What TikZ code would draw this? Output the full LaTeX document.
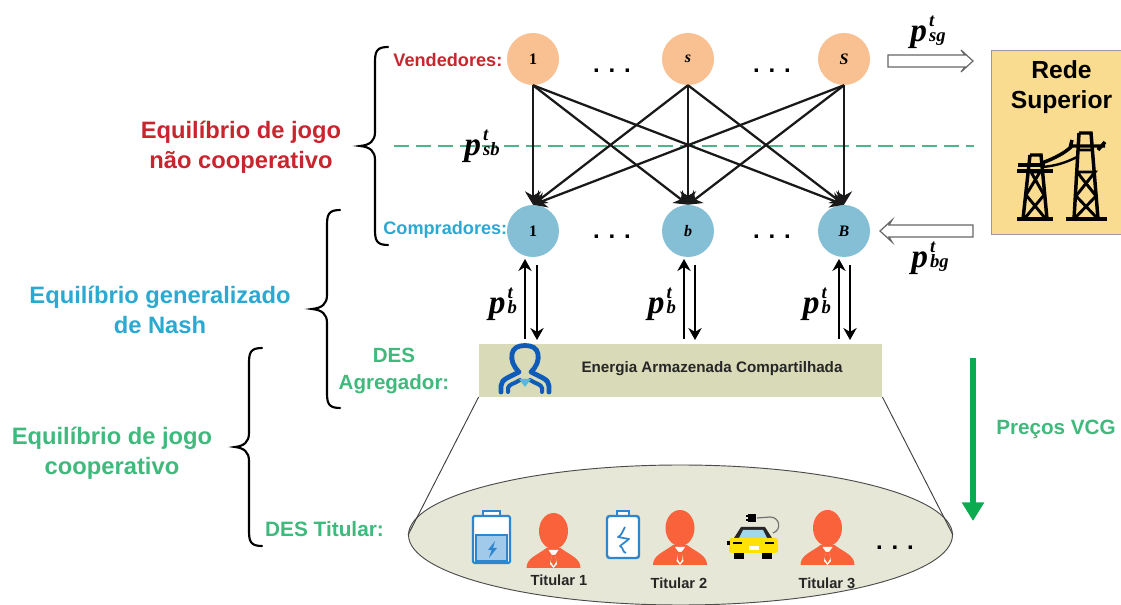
\documentclass[tikz,border=0pt]{standalone}
\usepackage{fontspec}
\setmainfont{Liberation Sans}
\newfontfamily\serifb{Liberation Serif}
\usetikzlibrary{arrows.meta,shapes.geometric}
\definecolor{cred}{HTML}{C9252F}
\definecolor{cblue}{HTML}{2BA9D2}
\definecolor{cgreen}{HTML}{3FB97C}
\definecolor{sellerc}{HTML}{F9C192}
\definecolor{buyerc}{HTML}{84BFD6}
\definecolor{gridc}{HTML}{FADC90}
\definecolor{barc}{HTML}{D8DAB8}
\definecolor{ellc}{HTML}{E6E7D6}
\definecolor{personc}{HTML}{F9623B}
\definecolor{batc}{HTML}{2E86CF}
\definecolor{dashc}{HTML}{4DB58A}
\definecolor{arrowg}{HTML}{0CAB50}
\definecolor{aggc}{HTML}{0F5CB8}
\newcommand{\pl}[1]{{\serifb\bfseries\itshape\fontsize{25}{25}\selectfont p\hspace{1.6pt}\rlap{\fontsize{14}{14}\selectfont\raisebox{.8em}{t}}\fontsize{14}{14}\selectfont\raisebox{-.02em}{#1}}}
\newcommand{\dotsrow}{{\fontsize{18}{18}\selectfont\bfseries .\hspace{6.6pt}.\hspace{6.6pt}.}}
\newcommand{\personicon}[2]{%
  \begin{scope}[shift={(#1,#2)}]
    \fill[personc] (0,0) ellipse [x radius=14.5,y radius=18];
    \fill[personc] (-27,37) .. controls (-27,27) and (-16,24) .. (-7,17) -- (7,17) .. controls (16,24) and (27,27) .. (27,37) -- cycle;
    \fill[white] (-5,19) -- (5,19) -- (1.5,24) -- (3.5,33) -- (0,37) -- (-3.5,33) -- (-1.5,24) -- cycle;
    \fill[personc] (-2,24) -- (2,24) -- (2.5,31) -- (0,35) -- (-2.5,31) -- cycle;
  \end{scope}}
\newcommand{\brc}[4]{% x-tip, x-end, y-top, y-bottom
  \pgfmathsetmacro{\ymid}{(#3+#4)/2}
  \draw[line width=1.6pt,line cap=round,black]
    (#2,#3) .. controls (#2-12,#3) and (#2-13,#3+5) .. (#2-13,#3+16)
    -- (#2-13,\ymid-14) .. controls (#2-13,\ymid-5) and (#2-18,\ymid-1) .. (#1,\ymid)
    .. controls (#2-18,\ymid+1) and (#2-13,\ymid+5) .. (#2-13,\ymid+14)
    -- (#2-13,#4-16) .. controls (#2-13,#4-5) and (#2-12,#4) .. (#2,#4);}
\tikzset{
  seller/.style={circle,fill=sellerc,minimum size=39pt,inner sep=0pt,font=\serifb\bfseries\itshape\fontsize{12}{12}\selectfont},
  buyer/.style={circle,fill=buyerc,minimum size=39pt,inner sep=0pt,font=\serifb\bfseries\itshape\fontsize{12}{12}\selectfont},
  flow/.style={line width=1.7pt,black!90,-{Stealth[length=10pt,width=12pt]}},
  dbl/.style={line width=1.3pt,black,-{Stealth[length=9pt,width=10pt]}},
  big/.style={font=\bfseries\fontsize{17.8}{22.5}\selectfont,align=center},
  small/.style={font=\bfseries\fontsize{13.6}{15}\selectfont},
  tit/.style={font=\bfseries\fontsize{11}{13}\selectfont,black!85},
  hollow/.style={draw=black!60,fill=white,line width=.9pt,line join=miter},
  thin/.style={line width=.7pt,black!75},
  tower/.style={line width=2.6pt,black,line join=miter},
}
\begin{document}
\begin{tikzpicture}[x=.75pt,y=-.75pt]
\useasboundingbox (0,0) rectangle (1121,605);
\fill[white] (0,0) rectangle (1121,605);

% ellipse of owners and the cone
\node[ellipse,draw=black!70,fill=ellc,line width=.7pt,minimum width=408pt,minimum height=105pt,inner sep=0pt] (own) at (680.5,535) {};
\node[draw=none,fill=barc,minimum width=302.5pt,minimum height=39.5pt,inner sep=0pt] (bar) at (680.5,370.5) {};
\draw[thin] (bar.south west) -- (own.west);
\draw[thin] (bar.south east) -- (own.east);

% dashed line
\coordinate (dl) at (394,146);
\coordinate (dr) at (974,146);
\draw[dashc,line width=1.5pt,dash pattern=on 11pt off 5.5pt] (dl) -- (dr);

% nodes
\node[seller] (s1) at (533,59) {\upshape 1};
\node[seller] (s2) at (688,59) {s};
\node[seller] (s3) at (844,59) {S};
\node[buyer] (b1) at (533,231) {\upshape 1};
\node[buyer] (b2) at (688,231) {b};
\node[buyer] (b3) at (844,231) {B};

\foreach \a in {s1,s2,s3}
  \foreach \b in {b1,b2,b3}
    \draw[flow] (\a.south) -- (\b.north);

\node at (612,71) {\dotsrow};
\node at (772,71) {\dotsrow};
\node at (612,237) {\dotsrow};
\node at (772,237) {\dotsrow};

% price labels
\node[inner sep=0pt] (psb) at (482,146) {\pl{sb}};
\node[inner sep=0pt] (psg) at (928,32) {\pl{sg}};
\node[inner sep=0pt] (pbg) at (930,258) {\pl{bg}};
\node[inner sep=0pt] (pb1) at (503,304) {\pl{b}};
\node[inner sep=0pt] (pb2) at (662,304) {\pl{b}};
\node[inner sep=0pt] (pb3) at (817,304) {\pl{b}};

% links between buyers and aggregator
\foreach \n/\xa/\xb in {1/525/537,2/684/695,3/839/850}{
  \coordinate (u\n a) at (\xa,339);
  \coordinate (u\n b) at (\xa,259);
  \coordinate (d\n a) at (\xb,265);
  \coordinate (d\n b) at (\xb,340);
  \draw[dbl] (u\n a) -- (u\n b);
  \draw[dbl] (d\n a) -- (d\n b);
}

% grid box
\node[draw=black!40,fill=gridc,line width=.6pt,minimum width=97.5pt,minimum height=138.5pt,inner sep=0pt] (grid) at (1056,142.5) {};
\node[font=\bfseries\fontsize{18.5}{22.5}\selectfont,align=center,black] (gridt) at (1061.5,87) {Rede\\Superior};

% hollow arrows
\draw[hollow] (888,55) -- (965,55) -- (961,50) -- (973,61) -- (961,72) -- (965,67) -- (888,67) -- cycle;
\draw[hollow] (973,225) -- (889,225) -- (892,220) -- (880,231) -- (892,242) -- (889,237) -- (973,237) -- cycle;

% towers
\draw[tower] (1017,219) -- (1053,219) (1066,219) -- (1107,219);
\draw[tower] (1030,155) -- (1041,155) -- (1047,219) (1030,155) -- (1023,219);
\draw[tower,line width=2.2pt] (1031,172) -- (1040,172) -- (1026,195) -- (1045,218) (1031,172) -- (1044,195) -- (1025,218);
\draw[tower,line width=3pt] (1017,171) -- (1053,171);
\draw[tower] (1018,165) -- (1045,165);
\draw[tower] (1079,133) -- (1091,133) -- (1098,219) (1079,133) -- (1074,219);
\draw[tower,line width=2.2pt] (1078,150) -- (1092,150) (1077,172) -- (1095,172) -- (1076,196) -- (1097,218) (1077,172) -- (1096,196) -- (1075,218);
\draw[tower] (1042,163) .. controls (1055,158) and (1065,153) .. (1072,146) -- (1105,146) (1105,142) -- (1098,150) (1072,140) -- (1070,148);
\draw[tower,line width=1.8pt] (1042,167) .. controls (1055,166) and (1065,163) .. (1077,157);

% labels
\node[big,text=cred] (l1) at (241,147) {Equilíbrio de jogo\\não cooperativo};
\node[big,text=cblue] (l2) at (160,310) {Equilíbrio generalizado\\de Nash};
\node[big,text=cgreen] (l3) at (112,453) {Equilíbrio de jogo\\cooperativo};
\node[small,text=cred,anchor=east] (v) at (507,60) {Vendedores:};
\node[small,text=cblue,anchor=east] (c) at (512,230) {Compradores:};
\node[font=\bfseries\fontsize{15.4}{20}\selectfont,align=center,text=cgreen] (agg) at (394,371) {DES\\Agregador:};
\node[font=\bfseries\fontsize{15.6}{17}\selectfont,text=cgreen] (own2) at (324.5,529) {DES Titular:};
\node[font=\bfseries\fontsize{15.5}{17}\selectfont,text=cgreen] (vcg) at (1056,429) {Preços VCG};
\node[font=\bfseries\fontsize{11.4}{13}\selectfont,black!85] (energy) at (712,369) {Energia Armazenada Compartilhada};

% braces
\brc{360}{388}{47}{245}
\brc{312}{340}{210}{408}
\brc{235}{262}{348}{546}

% VCG arrow
\coordinate (va) at (973,358);
\coordinate (vb) at (973,521);
\draw[arrowg,line width=4pt,-{Triangle[length=14pt,width=16pt]}] (va) -- (vb);

% aggregator icon
\draw[aggc,line width=3.6pt,line cap=round,line join=round]
  (501,392) -- (501,386) .. controls (501,379) and (510,377) .. (519,372)
  .. controls (513,366) and (511,360) .. (512,354)
  .. controls (513,348) and (518,345.5) .. (525,345.5)
  .. controls (532,345.5) and (537,348) .. (538,354)
  .. controls (539,360) and (537,366) .. (531,372)
  .. controls (540,377) and (549,379) .. (549,386) -- (549,392);
\draw[aggc,line width=3pt,line cap=round] (508,392) -- (508,388) .. controls (509,384) and (514,384) .. (520,380)
 (542,392) -- (542,388) .. controls (541,384) and (536,384) .. (530,380);
\fill[cblue!80] (519,379) -- (531,379) -- (525,387) -- cycle;

% batteries
\draw[batc,line width=1.6pt,fill=white] (483,511) rectangle (500,516);
\draw[batc,line width=1.6pt,fill=white,rounded corners=1pt] (473,516) rectangle (510,563);
\draw[batc,line width=1.2pt,fill=batc!45] (476,535) rectangle (507,561);
\fill[batc] (495,541) -- (488,550) -- (491.5,550) -- (489,558) -- (497,548) -- (493,548) -- cycle;
\draw[batc,line width=1.6pt,fill=white] (617,511) rectangle (629,516);
\draw[batc,line width=1.8pt,fill=white,rounded corners=2pt] (607,516) rectangle (639,558);
\draw[batc,line width=1.3pt,line join=round] (625,527) .. controls (622,532) and (622,535) .. (618,537) -- (629,539) -- (620,546) .. controls (624,548) and (622,552) .. (626,553);

% owners
\personicon{553.5}{531}
\personicon{680}{528}
\personicon{827.5}{528}
\node[tit] (t1) at (559,580) {Titular 1};
\node[tit] (t2) at (679,583) {Titular 2};
\node[tit] (t3) at (827,583) {Titular 3};
\node at (895,548) {\dotsrow};

% electric car
\draw[black!55,line width=.9pt] (757,518) -- (770,517) .. controls (780,517) and (782,530) .. (773,533);
\fill[black] (748,514) rectangle (756,522);
\draw[black,line width=.8pt] (746,516) -- (749,516) (746,520) -- (749,520);
\fill[black] (734,550) rectangle (744,559);
\fill[black] (762,550) rectangle (772,559);
\fill[black!85] (741,527) -- (765,527) -- (772,538) -- (734,538) -- cycle;
\fill[cblue!45] (743,530) -- (763,530) -- (767,538) -- (739,538) -- cycle;
\fill[yellow!85!orange,rounded corners=2pt] (729,538) rectangle (778,553);
\fill[white] (749,546) rectangle (759,550);
\fill[black] (727,541) rectangle (730,545);
\fill[black] (733,542) rectangle (742,544);
\fill[black] (765,542) rectangle (774,544);
\end{tikzpicture}
\end{document}
